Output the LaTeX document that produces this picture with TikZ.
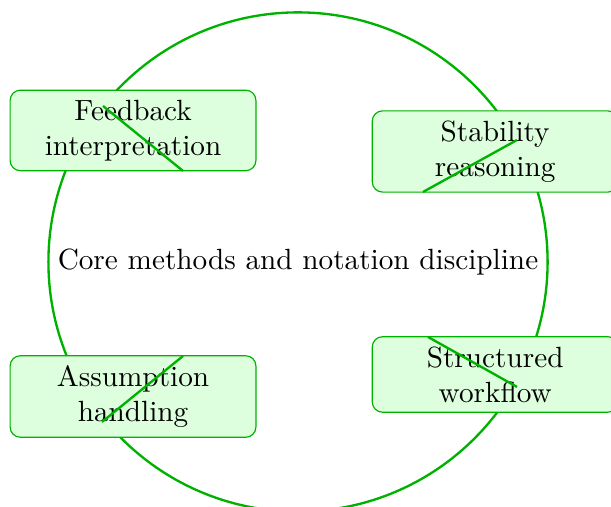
\documentclass[tikz,border=0pt]{standalone}
\begin{document}
\begin{tikzpicture}[
  ring/.style={draw=green!70!black, thick},
  topic/.style={draw=green!70!black, fill=green!13, rounded corners=3.5pt, thin,
                text width=2.72cm, align=center},
  chord/.style={draw=green!70!black, thick}
]
\clip (-3.582,-2.945) rectangle (3.762,3.149);
\draw[ring] (0,0) circle (3cm);
\node (core) at (0,0) {Core methods and notation discipline};
\node[topic] (fb) at (-1.983,1.581) {Feedback\\interpretation};
\node[topic] (st) at (2.37,1.328) {Stability\\reasoning};
\node[topic] (as) at (-1.983,-1.617) {Assumption\\handling};
\node[topic] (sw) at (2.37,-1.352) {Structured\\workflow};
\coordinate (a1) at (-2.344,1.875);
\coordinate (a2) at (-1.382,1.094);
\coordinate (b1) at (2.632,1.466);
\coordinate (b2) at (1.502,0.841);
\coordinate (c1) at (-1.382,-1.130);
\coordinate (c2) at (-2.356,-1.923);
\coordinate (d1) at (1.5625,-0.901);
\coordinate (d2) at (2.632,-1.502);
\draw[chord] (a1) -- (a2);
\draw[chord] (b1) -- (b2);
\draw[chord] (c1) -- (c2);
\draw[chord] (d1) -- (d2);
\end{tikzpicture}
\end{document}
